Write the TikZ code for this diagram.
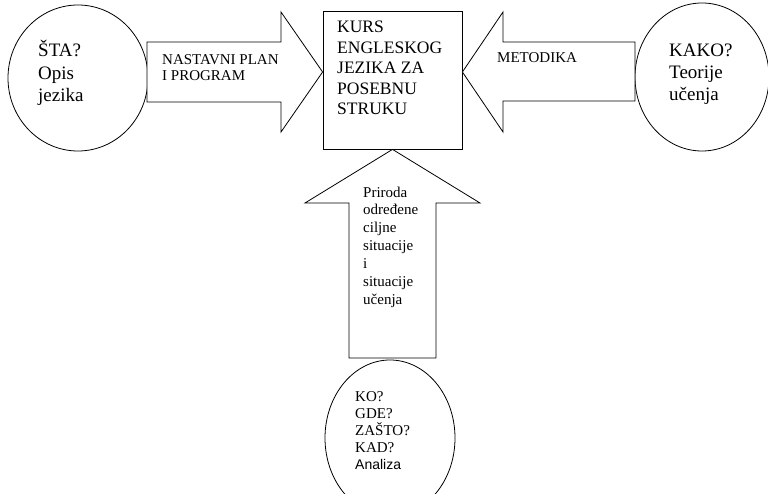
\documentclass[tikz,border=0pt]{standalone}
\usepackage{fontspec}
\setmainfont{Liberation Serif}
\setsansfont{Liberation Sans}
\usetikzlibrary{shapes.geometric}

\begin{document}
\begin{tikzpicture}[
x=1pt,y=-1pt,
shapeline/.style={
draw=black,
line width=0.8pt,
fill=white
},
circ/.style={
shapeline,
ellipse,
inner sep=0pt
},
box/.style={
shapeline,
rectangle,
inner sep=0pt
},
ptext/.style={
anchor=base west,
align=left,
inner sep=0pt,
font=\fontsize{15}{17.5}\selectfont
},
ctext/.style={
ptext,
font=\fontsize{19}{22.5}\selectfont
},
btext/.style={
ptext,
font=\fontsize{17.5}{20.5}\selectfont
}]

\useasboundingbox (0,0) rectangle (768,494);
\clip (0,0) rectangle (768,494);

\node [circ,minimum width=140pt,minimum height=146pt] (sta) at (78,78) {};
\node [circ,minimum width=134pt,minimum height=148pt] (kako) at (702,77) {};
\node [circ,minimum width=130pt,minimum height=156pt] (ko) at (390,438) {};
\node [box,minimum width=139pt,minimum height=138pt] (kurs) at (392.5,80) {};

% block arrows
\draw[shapeline] (147,42) -- (281,42) -- (281,12) -- ([yshift=8pt]kurs.west)
  -- (281,132) -- (281,102) -- (147,102) -- cycle;
\draw[shapeline] (635,42) -- (503,42) -- (503,12) -- ([yshift=8pt]kurs.east)
  -- (503,132) -- (503,101) -- (635,101) -- cycle;
\draw[shapeline] (349,358) -- (349,203) -- (305,203) -- (kurs.south)
  -- (480,203) -- (436,203) -- (436,358) -- cycle;

% texts, placed at the baseline of their last line
\node [ctext] (statext) at (38,102) {ŠTA?\\Opis\\jezika};
\node [ctext,font=\fontsize{19}{22}\selectfont] (kakotext) at (669,101) {KAKO?\\Teorije\\učenja};
\node [btext] (kurstext) at (337,115) {KURS\\ENGLESKOG\\JEZIKA ZA\\POSEBNU\\STRUKU};
\node [ptext,font=\fontsize{15}{16}\selectfont] (plan) at (162,81) {NASTAVNI PLAN\\I PROGRAM};
\node [ptext] (metodika) at (497,63) {METODIKA};
\node [ptext,font=\fontsize{15}{17.8}\selectfont] (priroda) at (363,304)
  {Priroda\\određene\\ciljne\\situacije\\i\\situacije\\učenja};
\node [ptext,font=\fontsize{15}{17}\selectfont] (kotext) at (355,469)
  {KO?\\GDE?\\ZAŠTO?\\KAD?\\{\fontsize{14}{17}\sffamily Analiza}};

\end{tikzpicture}
\end{document}
